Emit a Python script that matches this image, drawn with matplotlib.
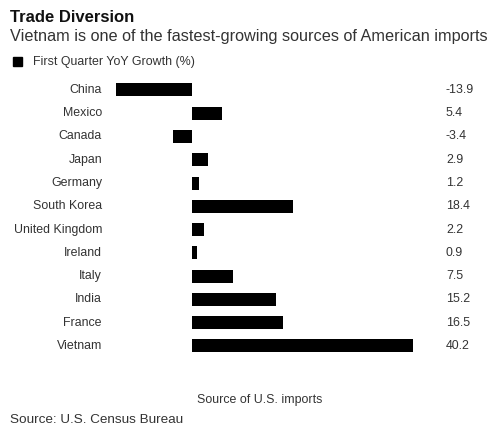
import matplotlib.pyplot as plt
import matplotlib.transforms as mtransforms
import numpy as np

plt.rcParams['font.family'] = ['Liberation Sans', 'DejaVu Sans']

# data
countries = ['China', 'Mexico', 'Canada', 'Japan', 'Germany', 'South Korea',
             'United Kingdom', 'Ireland', 'Italy', 'India', 'France', 'Vietnam']
growth = [-13.9, 5.4, -3.4, 2.9, 1.2, 18.4, 2.2, 0.9, 7.5, 15.2, 16.5, 40.2]

W, H = 500, 433
fig = plt.figure(figsize=(W / 100, H / 100), dpi=100)

# axes placed in pixel terms: zero at x=192, 5.5 px per unit
x0, x1 = -14.0, 40.5
left_px = 192 + x0 * 5.5
right_px = 192 + x1 * 5.5
top_px, bot_px = 78.3, 357.6
ax = fig.add_axes([left_px / W, 1 - bot_px / H, (right_px - left_px) / W, (bot_px - top_px) / H])

y = np.arange(len(countries))
ax.barh(y, growth, height=0.56, color='black')
ax.set_xlim(x0, x1)
ax.set_ylim(len(countries) - 0.5, -0.5)
ax.axis('off')

txt = '#333333'
# category names and value labels (figure coords in x, data in y)
trans = mtransforms.blended_transform_factory(fig.transFigure, ax.transData)
for i, (c, v) in enumerate(zip(countries, growth)):
    ax.text(102 / W, i, c, transform=trans, ha='right', va='center', fontsize=8.9, color=txt)
    ax.text(446 / W, i, f'{v:.1f}', transform=trans, ha='left', va='center', fontsize=8.9, color=txt)

fig.text(10 / W, 1 - 17 / H, 'Trade Diversion', fontsize=12, fontweight='bold', color='#111111', va='center')
fig.text(10 / W, 1 - 36 / H, 'Vietnam is one of the fastest-growing sources of American imports',
         fontsize=11.7, color=txt, va='center')
fig.patches.append(plt.Rectangle((13 / W, 1 - 66 / H), 9 / W, 9 / H, transform=fig.transFigure,
                                 color='black'))
fig.text(33 / W, 1 - 61.5 / H, 'First Quarter YoY Growth (%)', fontsize=8.9, color=txt, va='center')

fig.text(260 / W, 1 - 400 / H, 'Source of U.S. imports', fontsize=8.9, color=txt, ha='center', va='center')
fig.text(10 / W, 1 - 420 / H, 'Source: U.S. Census Bureau', fontsize=9.7, color=txt, va='center')

fig.savefig('out.png', dpi=100, facecolor='white')
